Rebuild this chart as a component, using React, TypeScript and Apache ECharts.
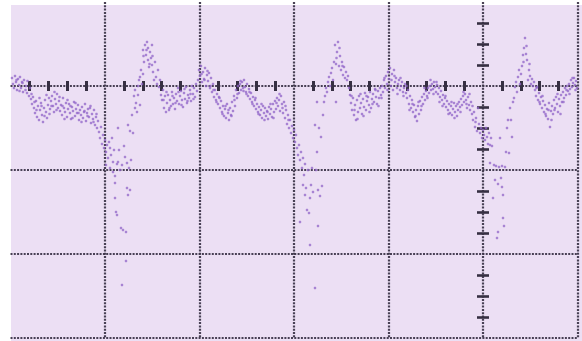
import React, { useEffect, useRef } from "react";
import * as echarts from "echarts";

// Scope trace samples: [time, level] (time 0 = centre graticule line, level 0 = centre horizontal line)
const sweep1Baseline: number[][] = [
  [-471, 8], [-470, 2], [-469, -2], [-468, 10], [-467, 4], [-466, -4], [-465, 7], [-464, 1], [-463, 9], [-462, -2],
  [-461, 4], [-460, -6], [-459, 6], [-457, 0], [-456, -7], [-454, -10], [-453, -2], [-452, -13], [-451, -18], [-450, -11],
  [-449, -22], [-448, -27], [-447, -15], [-446, -31], [-445, -20], [-444, -34], [-443, -24], [-442, -17], [-441, -29], [-440, -36],
  [-439, -22], [-438, -14], [-437, -26], [-436, -32], [-435, -19], [-434, -12], [-433, -23], [-432, -15], [-431, -10], [-430, -20],
  [-429, -26], [-428, -13], [-427, -18], [-426, -8], [-425, -22], [-424, -15], [-423, -25], [-422, -19], [-421, -29], [-420, -12],
  [-419, -22], [-418, -26], [-417, -17], [-416, -31], [-415, -23], [-414, -18], [-413, -27], [-412, -33], [-411, -21], [-410, -25],
  [-409, -16], [-408, -30], [-407, -23], [-406, -27], [-405, -19], [-404, -34], [-403, -24], [-402, -29], [-401, -21], [-400, -32],
  [-399, -26], [-398, -18], [-397, -35], [-396, -27], [-395, -23], [-394, -31], [-393, -22], [-392, -37], [-391, -28], [-390, -33],
  [-389, -24], [-388, -39], [-387, -31], [-386, -42], [-385, -35], [-384, -46], [-383, -52], [-382, -41], [-381, -58],
  [-466.5, 6], [-463.5, -5], [-460.5, 3], [-457.5, -4], [-455.5, 5], [-451.5, -8], [-448.5, -16], [-446.5, -24], [-443.5, -12], [-441.5, -20],
  [-438.5, -30], [-436.5, -9], [-433.5, -28], [-431.5, -20], [-428.5, -6], [-426.5, -24], [-423.5, -11], [-420.5, -20], [-418.5, -33], [-415.5, -14],
  [-412.5, -20], [-410.5, -32], [-407.5, -17], [-404.5, -27], [-401.5, -36], [-398.5, -25], [-395.5, -30], [-392.5, -20], [-389.5, -36], [-386.5, -28],
];

const sweep1Complex: number[][] = [
  [-380, -49], [-379, -62], [-378, -54], [-377, -66], [-377, -79], [-376, -59], [-375, -72], [-374, -56], [-373, -62], [-373, -82],
  [-372, -69], [-371, -52], [-370, -76], [-370, -86], [-369, -64], [-368, -90], [-368, -97], [-368, -112], [-367, -126], [-366, -78],
  [-366, -129], [-365, -76], [-365, -42], [-364, -64], [-363, -84], [-362, -142], [-361, -79], [-361, -199], [-360, -144], [-359, -60],
  [-358, -71], [-357, -175], [-357, -146], [-356, -102], [-356, -77], [-355, -39], [-355, -109], [-354, -82], [-353, -104], [-353, -45],
  [-352, -74], [-351, -29], [-350, -47], [-349, -10], [-348, -22],
  [-348, -4], [-347, -17], [-346, -26], [-345, 0], [-345, -9], [-344, 6], [-343, 9], [-343, -19], [-342, 16], [-341, 2],
  [-340, 12], [-340, 36], [-339, 24], [-338, 41], [-337, 31], [-336, 44], [-335, 26], [-335, 38], [-334, 19], [-333, 34],
  [-332, 28], [-331, 21], [-331, 41], [-330, 14], [-329, 6], [-328, 24], [-327, 9], [-326, 2], [-325, 16], [-324, -1],
  [-323, 6], [-322, -9], [-339.5, 30], [-336.5, 36], [-333.5, 22], [-330.5, 30],
];

const sweep2Baseline: number[][] = [
  [-321, -14], [-320, -4], [-319, -22], [-318, -10], [-317, -26], [-316, -17], [-315, -9], [-314, -24], [-313, -14], [-312, -20],
  [-311, -6], [-310, -18], [-309, -12], [-308, -23], [-307, -8], [-306, -15], [-305, -2], [-304, -18], [-303, -10], [-302, -5],
  [-301, -14], [-300, -21], [-299, -7], [-298, -13], [-297, -1], [-296, -17], [-295, -9], [-294, -12], [-293, -4], [-292, -15],
  [-291, 0], [-290, -8], [-289, -2], [-288, -11], [-287, 2], [-286, -5], [-285, 6],
  [-319.5, -14], [-316.5, -6], [-313.5, -22], [-310.5, -10], [-307.5, -17], [-304.5, -6], [-301.5, -19], [-298.5, -3], [-295.5, -15], [-292.5, -8],
  [-289.5, -13],
  [-284, 16], [-283, 10], [-282, 20], [-281, 4], [-280, 14], [-279, 7], [-278, 18], [-277, 0], [-276, 11], [-275, 5],
  [-274, 13], [-273, -2], [-272, 8], [-271, -6], [-270, 2], [-269, -11], [-268, -4], [-267, -14], [-266, -8], [-265, -18],
  [-264, -11], [-263, -22], [-262, -15], [-261, -26], [-260, -20], [-259, -30], [-258, -23], [-257, -32], [-256, -18], [-255, -27],
  [-254, -34], [-253, -22], [-252, -29], [-251, -16], [-250, -25], [-249, -10], [-248, -20], [-247, -4], [-246, -12], [-245, 0],
  [-244, -7], [-243, 2], [-242, -4], [-241, 4], [-240, -2], [-239, 6], [-238, -1], [-237, -6], [-236, 2], [-235, -10],
  [-234, -3], [-233, -13], [-232, -7], [-231, -16], [-230, -11], [-229, -20], [-228, -14], [-227, -23], [-226, -18], [-225, -26],
  [-224, -21], [-223, -29], [-222, -24], [-221, -32], [-220, -20], [-219, -27], [-218, -22], [-217, -30], [-216, -25], [-215, -33],
  [-214, -21], [-213, -28], [-212, -23], [-211, -31], [-210, -18], [-209, -26], [-208, -15], [-207, -23], [-206, -12], [-205, -20],
  [-204, -14], [-203, -25], [-202, -10], [-201, -18], [-200, -27], [-199, -16], [-198, -32], [-197, -24], [-196, -38], [-195, -29],
  [-194, -42], [-193, -34], [-192, -47], [-191, -40], [-190, -52], [-189, -44],
  [-281.5, 12], [-278.5, 6], [-275.5, 15], [-272.5, 0], [-269.5, -4], [-266.5, -16], [-263.5, -12], [-260.5, -28], [-257.5, -20], [-254.5, -24],
  [-251.5, -30], [-248.5, -14], [-245.5, -8], [-242.5, 5], [-239.5, -5], [-236.5, -8], [-233.5, -6], [-230.5, -18], [-227.5, -12], [-224.5, -28],
  [-221.5, -18], [-218.5, -34], [-215.5, -26], [-212.5, -18], [-209.5, -32], [-206.5, -17], [-203.5, -8], [-200.5, -22], [-197.5, -20], [-194.5, -34],
];

const sweep2Complex: number[][] = [
  [-188, -56], [-187, -49], [-186, -62], [-185, -69], [-184, -59], [-183, -74], [-183, -136], [-182, -66], [-181, -82], [-180, -72],
  [-180, -99], [-179, -89], [-178, -78], [-178, -109], [-177, -102], [-176, -124], [-175, -84], [-174, -127], [-173, -159], [-173, -112],
  [-172, -99], [-171, -82], [-170, -106], [-168, -202], [-168, -39], [-167, -84], [-166, -66], [-166, -16], [-165, -140], [-165, -104],
  [-164, -42], [-163, -110], [-162, -51], [-161, -100], [-160, -29], [-159, -16], [-158, -10], [-157, -2], [-156, -6], [-155, 4],
  [-154, 9], [-153, 0], [-152, 13], [-151, 18], [-150, 6], [-149, 24], [-148, 41], [-147, 22], [-147, -16], [-146, 34],
  [-145, 44], [-144, 20], [-143, 30], [-142, 16], [-141, 24], [-140, 11], [-139, 19], [-138, 8], [-137, 14], [-136, 6],
  [-135, 10], [-134, -2], [-146.5, 28], [-143.5, 38], [-140.5, 20],
];

const sweep3Baseline: number[][] = [
  [-133, -9], [-132, -17], [-131, -24], [-130, -12], [-129, -29], [-128, -19], [-127, -34], [-126, -14], [-125, -26], [-124, -10],
  [-123, -22], [-122, -17], [-121, -28], [-120, -13], [-119, -21], [-118, -7], [-117, -24], [-116, -15], [-115, -11], [-114, -19],
  [-113, -6], [-112, -22], [-111, -13], [-110, -8], [-109, -16], [-108, -3], [-107, -11], [-106, -18], [-105, -5], [-104, -12],
  [-103, -2], [-102, -9], [-101, 0], [-100, -6], [-99, 6], [-98, -2], [-97, 10], [-96, 2], [-95, 14], [-94, 7],
  [-131.5, -10], [-128.5, -24], [-125.5, -33], [-122.5, -8], [-119.5, -30], [-116.5, -10], [-113.5, -26], [-110.5, -18], [-107.5, -4], [-104.5, -20],
  [-101.5, -12], [-98.5, 8], [-95.5, -4],
  [-93, 18], [-92, 0], [-91, 12], [-90, -4], [-89, 16], [-88, 4], [-87, 8], [-86, -2], [-85, 2], [-84, 6],
  [-83, -4], [-82, 0], [-81, 4], [-80, -6], [-79, -2], [-78, 2], [-77, -7], [-76, -12], [-75, -4], [-74, -18],
  [-73, -10], [-72, -22], [-71, -14], [-70, -26], [-69, -19], [-68, -31], [-67, -24], [-66, -35], [-65, -20], [-64, -28],
  [-63, -15], [-62, -24], [-61, -11], [-60, -18], [-59, -8], [-58, -14], [-57, -5], [-56, -10], [-55, -2], [-54, -7],
  [-53, 0], [-52, -4], [-51, 2], [-50, -3], [-49, 4], [-48, -1], [-47, -6], [-46, 1], [-45, -8], [-44, -2],
  [-43, -11], [-42, -5], [-41, -14], [-40, -9], [-39, -18], [-38, -12], [-37, -21], [-36, -15], [-35, -24], [-34, -18],
  [-33, -27], [-32, -20], [-31, -29], [-30, -23], [-29, -17], [-28, -26], [-27, -20], [-26, -30], [-25, -24], [-24, -16],
  [-23, -21], [-22, -13], [-21, -19], [-20, -10], [-19, -16], [-18, -8], [-17, -14], [-16, -22], [-15, -11], [-14, -19],
  [-13, -24], [-12, -16], [-11, -28], [-10, -34], [-9, -26], [-8, -41], [-7, -32], [-6, -45], [-5, -22], [-4, -38],
  [-3, -47],
  [-91.5, 6], [-88.5, 10], [-85.5, -8], [-82.5, 8], [-79.5, -10], [-76.5, 0], [-73.5, -24], [-70.5, -18], [-67.5, -30], [-64.5, -16],
  [-61.5, -20], [-58.5, -2], [-55.5, -12], [-52.5, 6], [-49.5, -8], [-46.5, 4], [-43.5, -16], [-40.5, -20], [-37.5, -10], [-34.5, -28],
  [-31.5, -16], [-28.5, -32], [-25.5, -18], [-22.5, -26], [-19.5, -6], [-16.5, -18], [-13.5, -8], [-10.5, -20], [-7.5, -36],
];

const sweep3Complex: number[][] = [
  [-2, -42], [-1, -52], [0, -44], [1, -49], [2, -54], [3, -42], [4, -51], [5, -58], [6, -47], [7, -59],
  [7, -77], [8, -52], [9, -60], [10, -112], [11, -79], [12, -94], [13, -80], [14, -152], [15, -146], [15, -98],
  [16, -81], [17, -52], [18, -92], [19, -101], [19, -80], [20, -109], [20, -132], [21, -140], [22, -81], [23, -66],
  [24, -42], [25, -34], [26, -67], [27, -22], [28, -34], [29, -51], [30, -16], [31, -12], [32, -1], [33, 4],
  [34, -6], [35, 9], [36, 16], [37, 2], [38, 12], [39, 20], [40, 31], [41, 38], [42, 48], [43, 32],
  [44, 26], [45, 6], [46, 16], [47, 10], [48, 2], [49, 7], [50, 0], [51, 4],
  [40.5, 24], [43.5, 40], [46.5, 22],
];

const sweep4Baseline: number[][] = [
  [52, -4], [53, -10], [54, -1], [55, -14], [56, -7], [57, -18], [58, -11], [59, -22], [60, -15], [61, -26],
  [62, -19], [63, -30], [64, -23], [65, -33], [66, -17], [67, -41], [68, -25], [69, -20], [70, -28], [71, -14],
  [72, -22], [73, -11], [74, -18], [75, -26], [76, -13], [77, -20], [78, -9], [79, -16], [80, -6], [81, -12],
  [82, -2], [83, -9], [84, 0], [85, -5], [86, 2], [87, -3], [88, 6], [89, -1], [90, 3], [91, 8],
  [92, 1], [93, 5], [94, -2], [95, 3],
  [53.5, -2], [56.5, -16], [59.5, -10], [62.5, -28], [65.5, -24], [68.5, -34], [71.5, -24], [74.5, -8], [77.5, -28], [80.5, -16],
  [83.5, -4], [86.5, -8], [89.5, 8], [92.5, -4],
];

// Graticule: 6 horizontal divisions x 4 vertical divisions
const TIME_MIN = -472.5;
const TIME_MAX = 94.5;
const TIME_DIV = 94.5;
const LEVEL_MIN = -252;
const LEVEL_MAX = 84;
const LEVEL_DIV = 84;

const GRID_COLOR = "#362f42";
const TRACE_COLOR = "#9064c8";
const SCREEN_COLOR = "#ecdff4";

export default function App() {
  const ref = useRef<HTMLDivElement>(null);

  useEffect(() => {
    if (!ref.current) return;
    const chart = echarts.init(ref.current, undefined, { renderer: "svg" });
    const trace = [
      ...sweep1Baseline,
      ...sweep1Complex,
      ...sweep2Baseline,
      ...sweep2Complex,
      ...sweep3Baseline,
      ...sweep3Complex,
      ...sweep4Baseline,
    ];
    const dotted = { color: GRID_COLOR, width: 2.2, type: [2, 1.3] as number[], opacity: 0.9 };
    const xTickStyle = { color: GRID_COLOR, width: 3 };
    const yTickStyle = { color: GRID_COLOR, width: 2.6 };
    const xBase = {
      type: "value" as const,
      min: TIME_MIN,
      max: TIME_MAX,
      interval: TIME_DIV,
      axisLabel: { show: false },
      axisTick: { show: false },
    };
    const yBase = {
      type: "value" as const,
      min: LEVEL_MIN,
      max: LEVEL_MAX,
      interval: LEVEL_DIV,
      axisLabel: { show: false },
      axisTick: { show: false },
    };
    chart.setOption({
      animation: false,
      grid: { left: 10.5, right: 4.5, top: 2, bottom: 3 },
      xAxis: [
        {
          ...xBase,
          position: "bottom",
          axisLine: { show: false, onZero: true, onZeroAxisIndex: 0 },
          minorTick: { show: true, splitNumber: 5, length: 5, lineStyle: xTickStyle },
          splitLine: { show: true, showMinLine: false, lineStyle: dotted },
        },
        {
          ...xBase,
          position: "top",
          axisLine: { show: false, onZero: true, onZeroAxisIndex: 0 },
          minorTick: { show: true, splitNumber: 5, length: 5, lineStyle: xTickStyle },
          splitLine: { show: false },
        },
      ],
      yAxis: [
        {
          ...yBase,
          position: "left",
          axisLine: { show: false, onZero: true, onZeroAxisIndex: 0 },
          minorTick: { show: true, splitNumber: 4, length: 6, lineStyle: yTickStyle },
          splitLine: { show: true, showMaxLine: false, lineStyle: dotted },
        },
        {
          ...yBase,
          position: "right",
          axisLine: { show: false, onZero: true, onZeroAxisIndex: 0 },
          minorTick: { show: true, splitNumber: 4, length: 6, lineStyle: yTickStyle },
          splitLine: { show: false },
        },
      ],
      series: [
        {
          type: "scatter",
          xAxisIndex: 0,
          yAxisIndex: 0,
          data: trace,
          symbol: "circle",
          symbolSize: 2.6,
          itemStyle: { color: TRACE_COLOR, opacity: 0.75 },
          silent: true,
        },
      ],
    });
    return () => chart.dispose();
  }, []);

  return (
    <div style={{ position: "absolute", left: 0, top: 0, width: 582, height: 341, background: "#ffffff" }}>
      <div
        style={{ position: "absolute", left: 11, top: 5, width: 571, height: 336, background: SCREEN_COLOR }}
      />
      <div ref={ref} style={{ position: "absolute", left: 0, top: 0, width: 582, height: 341 }} />
    </div>
  );
}
